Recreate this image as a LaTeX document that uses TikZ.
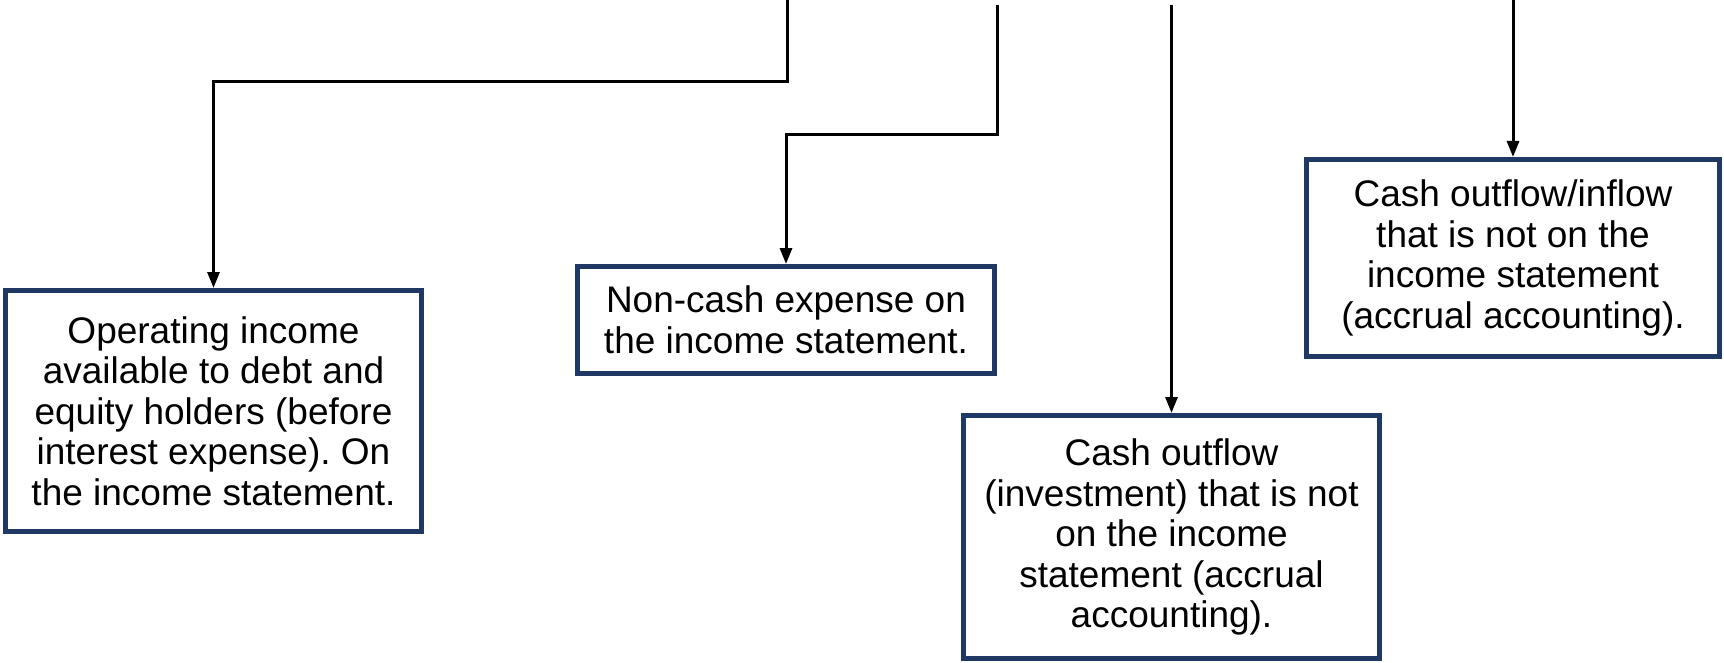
\documentclass[tikz,border=0pt]{standalone}
\usepackage{fontspec}
\setmainfont{Liberation Sans}
\usetikzlibrary{arrows.meta}
\definecolor{boxblue}{HTML}{203864}
\frenchspacing
\tikzset{
  infobox/.style={draw=boxblue, line width=5pt, fill=white, inner sep=0pt,
    align=center, font=\fontsize{37pt}{40.5pt}\selectfont},
  conn/.style={draw=black, line width=3pt, -{Triangle[length=16pt,width=12pt]}}
}
\begin{document}
\begin{tikzpicture}[x=1pt,y=-1pt]
\useasboundingbox (0,0) rectangle (1724,663);
\node[infobox, minimum width=416pt, minimum height=241pt] (b1) at (213.5,411)
  {Operating income\\available to debt and\\equity holders (before\\interest expense). On\\the income statement.};
\node[infobox, minimum width=417pt, minimum height=107pt] (b2) at (786,320)
  {Non-cash expense on\\the income statement.};
\node[infobox, minimum width=416pt, minimum height=243pt] (b3) at (1171.5,537)
  {Cash outflow\\(investment) that is not\\on the income\\statement (accrual\\accounting).};
\node[infobox, minimum width=413pt, minimum height=197pt] (b4) at (1513,258)
  {Cash outflow/inflow\\that is not on the\\income statement\\(accrual accounting).};
\coordinate (s1) at (787,0);
\coordinate (s2) at (997,5);
\coordinate (s3) at (1171.5,5);
\coordinate (s4) at (1513,0);
\draw[conn] (s1) -- ++(0,82) -| (b1.north);
\draw[conn] (s2) -- ++(0,130) -| (b2.north);
\draw[conn] (s3) -- (b3.north);
\draw[conn] (s4) -- (b4.north);
\end{tikzpicture}
\end{document}
